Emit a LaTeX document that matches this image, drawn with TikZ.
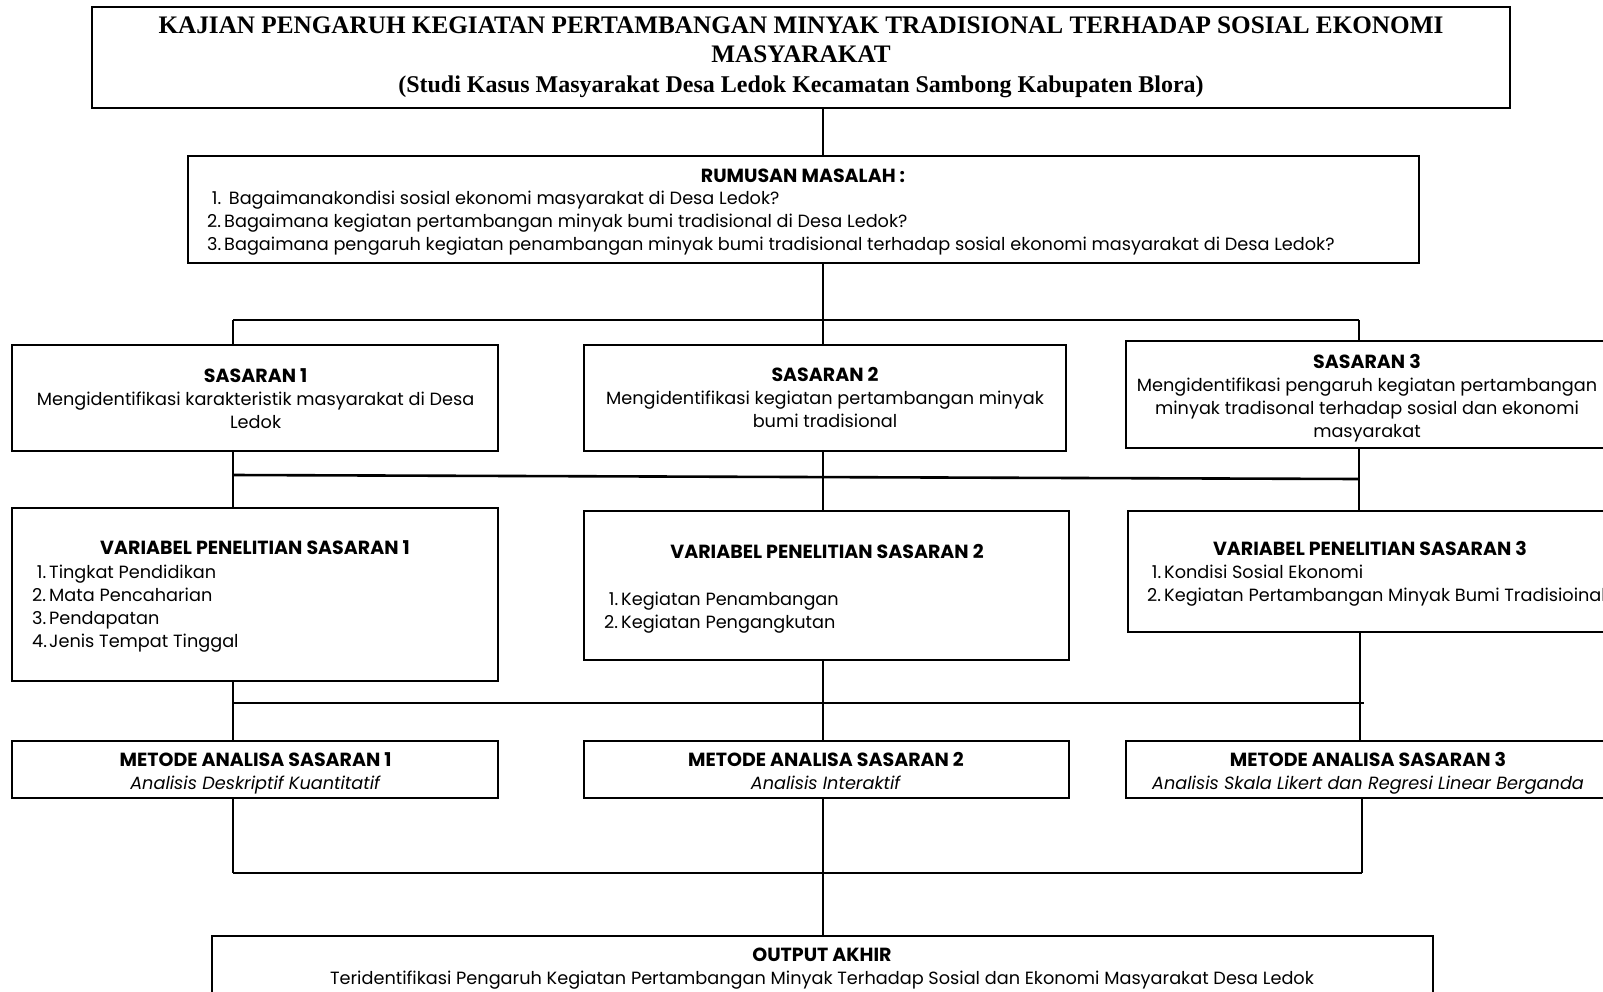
\documentclass[tikz,border=0pt]{standalone}
\usepackage{fontspec}
\setmainfont{Liberation Serif}
\newfontfamily\bodyfont{Poppins}
\newcommand{\bodysize}{\fontsize{17.7}{23}\selectfont}
\newcommand{\hd}[1]{{\fontsize{19}{23}\selectfont\bfseries #1}}
\newcommand{\numb}[1]{\makebox[17pt][l]{#1}}
\tikzset{
  box/.style={draw, line width=1.8pt, rectangle, inner sep=0pt, fill=white},
  txt/.style={inner sep=0pt, align=center, font=\bodyfont\bodysize},
  conn/.style={line width=2.6pt},
}
\begin{document}
\begin{tikzpicture}[x=1pt,y=-1pt]
\useasboundingbox (0,0) rectangle (1603,991);
\clip (0,0) rectangle (1603,991);
\fill[white] (0,0) rectangle (1603,991);

% title
\node[box, line width=2.8pt, minimum width=1418pt, minimum height=101pt] (title) at (801,57.5) {};
\node[txt, font=\bfseries\fontsize{25.2}{29.5}\selectfont] (titlet) at (801,57)
  {KAJIAN PENGARUH KEGIATAN PERTAMBANGAN MINYAK TRADISIONAL TERHADAP SOSIAL EKONOMI\\
   MASYARAKAT\\
   \fontsize{24}{29.5}\selectfont (Studi Kasus Masyarakat Desa Ledok Kecamatan Sambong Kabupaten Blora)};

% rumusan masalah
\node[box, line width=2.4pt, minimum width=1231pt, minimum height=107pt] (rm) at (803.5,209.5) {};
\node[txt] (rmh) at (803,176) {\hd{RUMUSAN MASALAH :}};
\node[txt, anchor=west, align=left] (rml) at (207,223.5)
  {\numb{\ 1.}\ Bagaimanakondisi sosial ekonomi masyarakat di Desa Ledok?\\
   \numb{2.}Bagaimana kegiatan pertambangan minyak bumi tradisional di Desa Ledok?\\
   \numb{3.}Bagaimana pengaruh kegiatan penambangan minyak bumi tradisional terhadap sosial ekonomi masyarakat di Desa Ledok?};

% sasaran
\node[box, minimum width=486pt, minimum height=106pt] (s1) at (255,398) {};
\node[txt] (s1t) at (255.6,399)
  {\hd{SASARAN 1}\\Mengidentifikasi karakteristik masyarakat di Desa\\Ledok};
\node[box, minimum width=482pt, minimum height=106pt] (s2) at (825,398) {};
\node[txt] (s2t) at (825,397.5)
  {\hd{SASARAN 2}\\Mengidentifikasi kegiatan pertambangan minyak\\bumi tradisional};
\node[box, minimum width=482pt, minimum height=107pt] (s3) at (1367,394.5) {};
\node[txt] (s3t) at (1367,398)
  {\hd{SASARAN 3}\\Mengidentifikasi pengaruh kegiatan pertambangan\\minyak tradisonal terhadap sosial dan ekonomi\\masyarakat};

% variabel
\node[box, minimum width=486pt, minimum height=173pt] (v1) at (255,594.5) {};
\node[txt] (v1h) at (255,548) {\hd{VARIABEL PENELITIAN SASARAN 1}};
\node[txt, anchor=west, align=left] (v1l) at (32,609)
  {\numb{\ 1.}Tingkat Pendidikan\\\numb{2.}Mata Pencaharian\\\numb{3.}Pendapatan\\\numb{4.}Jenis Tempat Tinggal};

\node[box, minimum width=485pt, minimum height=149pt] (v2) at (826.5,585.5) {};
\node[txt] (v2h) at (827,551) {\hd{VARIABEL PENELITIAN SASARAN 2}};
\node[txt, anchor=west, align=left] (v2l) at (604,613)
  {\numb{\ 1.}Kegiatan Penambangan\\\numb{2.}Kegiatan Pengangkutan};

\node[box, minimum width=482pt, minimum height=121pt] (v3) at (1369,571.5) {};
\node[txt] (v3h) at (1370,548) {\hd{VARIABEL PENELITIAN SASARAN 3}};
\node[txt, anchor=west, align=left] (v3l) at (1147,586)
  {\numb{\ 1.}Kondisi Sosial Ekonomi\\\numb{2.}Kegiatan Pertambangan Minyak Bumi Tradisioinal};

% metode
\node[box, minimum width=486pt, minimum height=57pt] (m1) at (255,769.5) {};
\node[txt] (m1t) at (255.6,773.5)
  {\hd{METODE ANALISA SASARAN 1}\\\textit{Analisis Deskriptif Kuantitatif}};
\node[box, minimum width=485pt, minimum height=57pt] (m2) at (826.5,769.5) {};
\node[txt] (m2t) at (826,770.5)
  {\hd{METODE ANALISA SASARAN 2}\\\textit{Analisis Interaktif}};
\node[box, minimum width=482pt, minimum height=57pt] (m3) at (1367,769.5) {};
\node[txt] (m3t) at (1368,773.5)
  {\hd{METODE ANALISA SASARAN 3}\\\textit{Analisis Skala Likert dan Regresi Linear Berganda}};

% output
\node[box, minimum width=1221pt, minimum height=70pt] (out) at (822.5,971) {};
\node[txt] (outt) at (822,968.5)
  {\hd{OUTPUT AKHIR}\\Teridentifikasi Pengaruh Kegiatan Pertambangan Minyak Terhadap Sosial dan Ekonomi Masyarakat Desa Ledok};

% bus coordinates
\coordinate (b1L) at (233,320);
\coordinate (b1M) at (823,320);
\coordinate (b1R) at (1359,320);
\coordinate (b2L) at (233,475);
\coordinate (b2R) at (1359,479);
\coordinate (b3L) at (233,703);
\coordinate (b3R) at (1364,703);
\coordinate (b3X) at (1360,703);
\coordinate (b4L) at (233,873);
\coordinate (b4R) at (1362,873);

% connectors
\draw[conn] (title.south -| b1M) -- (rm.north -| b1M);
\draw[conn] (rm.south -| b1M) -- (s2.north -| b1M);
\draw[conn] (b1L) -- (b1R);
\draw[conn] (b1L) -- (b1L |- s1.north);
\draw[conn] (b1R) -- (b1R |- s3.north);

\draw[conn] (s1.south -| b1L) -- (v1.north -| b1L);
\draw[conn] (s2.south -| b1M) -- (v2.north -| b1M);
\draw[conn] (s3.south -| b1R) -- (v3.north -| b1R);
\draw[conn] (b2L) -- (b2R);

\draw[conn] (v1.south -| b1L) -- (m1.north -| b1L);
\draw[conn] (v2.south -| b1M) -- (m2.north -| b1M);
\draw[conn] (v3.south -| b3X) -- (m3.north -| b3X);
\draw[conn] (b3L) -- (b3R);

\draw[conn] (m1.south -| b4L) -- (b4L);
\draw[conn] (m2.south -| b1M) -- (out.north -| b1M);
\draw[conn] (m3.south -| b4R) -- (b4R);
\draw[conn] (b4L) -- (b4R);
\end{tikzpicture}
\end{document}
